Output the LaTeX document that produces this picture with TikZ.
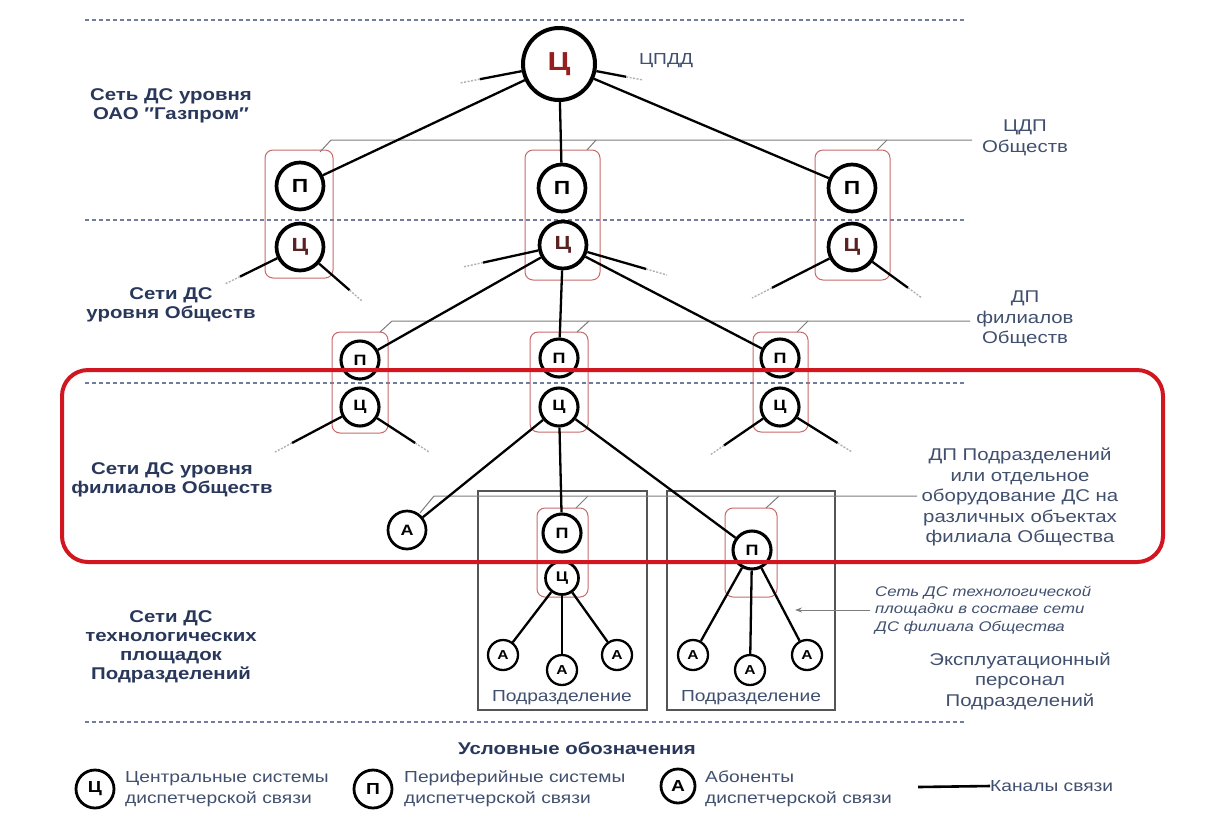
\documentclass[tikz,border=0pt]{standalone}
\usepackage{fontspec}
\setmainfont{Liberation Sans}[FakeStretch=1.2]
\usetikzlibrary{calc,arrows.meta}
\definecolor{navy}{RGB}{40,55,90}
\definecolor{gblue}{RGB}{65,80,110}
\definecolor{sepc}{RGB}{110,125,160}
\definecolor{leadc}{RGB}{125,125,125}
\definecolor{boxc}{RGB}{85,85,85}
\definecolor{pinkc}{RGB}{200,105,105}
\definecolor{bigred}{RGB}{210,22,32}
\definecolor{dred}{RGB}{150,30,30}
\definecolor{bred}{RGB}{90,35,35}
\begin{document}
\begin{tikzpicture}[x=1pt,y=-1pt,
  sep/.style={draw=sepc,line width=1.1pt,dash pattern=on 4pt off 3pt},
  lead/.style={draw=leadc,line width=1pt},
  conn/.style={draw=black,line width=2.3pt},
  tail/.style={draw=gray!60,line width=1.4pt,dash pattern=on 2pt off 1.5pt},
  pbox/.style={draw=pinkc,line width=1pt,rounded corners=8pt},
  sbox/.style={draw=boxc,line width=1.5pt},
  bigc/.style={circle,draw,line width=4pt,inner sep=0pt,minimum size=72pt,font=\fontsize{26}{26}\selectfont\bfseries},
  midc/.style={circle,draw,line width=3.7pt,inner sep=0pt,minimum size=47pt,font=\fontsize{19}{19}\selectfont\bfseries},
  smlc/.style={circle,draw,line width=3.1pt,inner sep=0pt,minimum size=38pt,font=\fontsize{15}{15}\selectfont\bfseries},
  subc/.style={circle,draw,line width=2.7pt,inner sep=0pt,minimum size=33pt,font=\fontsize{14}{14}\selectfont\bfseries},
  abc/.style={circle,draw,line width=2.3pt,inner sep=0pt,minimum size=30pt,font=\fontsize{13}{13}\selectfont\bfseries},
  abl/.style={circle,draw,line width=2.7pt,inner sep=0pt,minimum size=38pt,font=\fontsize{15}{15}\selectfont\bfseries},
  legc/.style={circle,draw,line width=2.8pt,inner sep=0pt,minimum size=38pt,font=\fontsize{16}{16}\selectfont\bfseries},
  lbl/.style={text=navy,font=\fontsize{17}{19}\selectfont\bfseries,align=center,inner sep=0pt},
  rlbl/.style={text=gblue,font=\fontsize{17}{20.5}\selectfont,align=center,inner sep=0pt},
  itl/.style={text=gblue,font=\fontsize{14}{17.5}\selectfont\itshape,align=left,inner sep=0pt,anchor=west},
  leg/.style={text=gblue,font=\fontsize{16}{21}\selectfont,align=left,inner sep=0pt,anchor=west},
  podr/.style={text=gblue,font=\fontsize{16}{16}\selectfont,inner sep=0pt}
]
\useasboundingbox (0,0) rectangle (1214,812);
\fill[white] (0,0) rectangle (1214,812);

% separators
\coordinate (d1a) at (85,20);  \coordinate (d1b) at (965,20);
\coordinate (d2a) at (85,220); \coordinate (d2b) at (965,220);
\coordinate (d3a) at (85,383); \coordinate (d3b) at (965,383);
\coordinate (d4a) at (85,722); \coordinate (d4b) at (965,722);
\draw[sep] (d1a) -- (d1b);
\draw[sep] (d2a) -- (d2b);
\draw[sep] (d3a) -- (d3b);
\draw[sep] (d4a) -- (d4b);

% pink boxes level 2
\draw[pbox] (265,150) rectangle (333,278);
\draw[pbox] (525,150) rectangle (600,280);
\draw[pbox] (815,150) rectangle (890,280);
% pink boxes level 3
\draw[pbox] (332,332) rectangle (388,433);
\draw[pbox] (530,332) rectangle (588,432);
\draw[pbox] (753,332) rectangle (808,432);
% pink boxes level 4
\draw[pbox] (537,508) rectangle (588,597);
\draw[pbox] (725,508) rectangle (777,597);
% sub-division boxes
\draw[sbox] (478,491) rectangle (647,710);
\draw[sbox] (667,491) rectangle (835,710);

% leaders
\coordinate (l1s) at (320,152); \coordinate (l1k) at (331,140); \coordinate (l1e) at (972,140);
\draw[lead] (l1s) -- (l1k) -- (l1e);
\coordinate (l1bs) at (587,150); \coordinate (l1bk) at (596,140);
\draw[lead] (l1bs) -- (l1bk);
\coordinate (l1cs) at (877,150); \coordinate (l1ck) at (887,140);
\draw[lead] (l1cs) -- (l1ck);

\coordinate (l2s) at (380,332); \coordinate (l2k) at (392,321); \coordinate (l2e) at (970,321);
\draw[lead] (l2s) -- (l2k) -- (l2e);
\coordinate (l2bs) at (577,332); \coordinate (l2bk) at (589,321);
\draw[lead] (l2bs) -- (l2bk);
\coordinate (l2cs) at (797,332); \coordinate (l2ck) at (808,321);
\draw[lead] (l2cs) -- (l2ck);

\coordinate (l3s) at (420,513); \coordinate (l3k) at (434,496); \coordinate (l3e) at (917,496);
\draw[lead] (l3s) -- (l3k) -- (l3e);
\coordinate (l3bs) at (576,508); \coordinate (l3bk) at (588,496);
\draw[lead] (l3bs) -- (l3bk);
\coordinate (l3cs) at (766,508); \coordinate (l3ck) at (779,496);
\draw[lead] (l3cs) -- (l3ck);

% nodes
\node[bigc,text=dred] (c0) at (559,64) {Ц};
\node[midc] (p2a) at (300,186) {П};
\node[midc,text=bred] (c2a) at (300,247) {Ц};
\node[midc] (p2b) at (562,188) {П};
\node[midc,text=bred] (c2b) at (563,245) {Ц};
\node[midc] (p2c) at (852,188) {П};
\node[midc,text=bred] (c2c) at (852,247) {Ц};
\node[smlc] (p3a) at (360,360) {П};
\node[smlc] (c3a) at (360,407) {Ц};
\node[smlc] (p3b) at (559,358) {П};
\node[smlc] (c3b) at (559,407) {Ц};
\node[smlc] (p3c) at (780,358) {П};
\node[smlc] (c3c) at (780,407) {Ц};
\node[abl] (a1) at (407,530) {А};
\node[smlc] (p4a) at (562,533) {П};
\node[subc] (c4a) at (562,578) {Ц};
\node[smlc] (p4b) at (752,550) {П};
\node[abc] (a2) at (503,655) {А};
\node[abc] (a3) at (562,670) {А};
\node[abc] (a4) at (617,655) {А};
\node[abc] (a5) at (693,655) {А};
\node[abc] (a6) at (750,670) {А};
\node[abc] (a7) at (807,655) {А};

% connectors
\draw[conn] (c0) -- (p2a);
\draw[conn] (c0) -- (p2b);
\draw[conn] (c0) -- (p2c);
\draw[conn] (c2b) -- (p3a);
\draw[conn] (c2b) -- (p3b);
\draw[conn] (c2b) -- (p3c);
\draw[conn] (c3b) -- (a1);
\draw[conn] (c3b) -- (p4a);
\draw[conn] (c3b) -- (p4b);
\draw[conn] (c4a) -- (a2);
\draw[conn] (c4a) -- (a3);
\draw[conn] (c4a) -- (a4);
\draw[conn] (p4b) -- (a5);
\draw[conn] (p4b) -- (a6);
\draw[conn] (p4b) -- (a7);

% stubs
\foreach \n/\ex/\ey in {c0/460/83, c0/643/80, c2a/225/284, c2a/362/301, c2b/463/267, c2b/667/275, c2c/752/298, c2c/922/298, c3a/275/452, c3a/429/452, c3c/710/455, c3c/852/452}{
  \coordinate (se) at (\ex,\ey);
  \draw[conn] (\n) -- ($(\n)!0.8!(se)$);
  \draw[tail] ($(\n)!0.8!(se)$) -- (se);
}

% big red frame
\draw[draw=bigred,line width=4pt,rounded corners=26pt] (62,370) rectangle (1163,562);

% left labels
\node[lbl] (t1) at (171,106) {Сеть ДС уровня\\ОАО ″Газпром″};
\node[lbl] (t2) at (171,305) {Сети ДС\\уровня Обществ};
\node[lbl] (t3) at (172,480) {Сети ДС уровня\\филиалов Обществ};
\node[lbl] (t4) at (171,647) {Сети ДС\\технологических\\площадок\\Подразделений};

% right labels
\node[rlbl,font=\fontsize{16}{16}\selectfont] (t5) at (666,61) {ЦПДД};
\node[rlbl] (t6) at (1025,138) {ЦДП\\Обществ};
\node[rlbl] (t7) at (1025,319) {ДП\\филиалов\\Обществ};
\node[rlbl] (t8) at (1020,497) {ДП Подразделений\\или отдельное\\оборудование ДС на\\различных объектах\\филиала Общества};
\node[itl] (t9) at (875,610) {Сеть ДС технологической\\площадки в составе сети\\ДС филиала Общества};
\node[rlbl] (t10) at (1020,681) {Эксплуатационный\\персонал\\Подразделений};
\node[podr] (t11) at (562,698) {Подразделение};
\node[podr] (t12) at (751,698) {Подразделение};

% arrow
\coordinate (ar1) at (870,610); \coordinate (ar2) at (795,610);
\draw[draw=leadc,line width=1pt,-{Stealth[length=7pt,width=5pt]}] (ar1) -- (ar2);

% legend
\node[lbl] (lt) at (577,748) {Условные обозначения};
\node[legc] (lg1) at (95,789) {Ц};
\node[leg] (lx1) at (125,789) {Центральные системы\\диспетчерской связи};
\node[legc] (lg2) at (373,789) {П};
\node[leg] (lx2) at (404,789) {Периферийные системы\\диспетчерской связи};
\node[legc,minimum size=34pt] (lg3) at (678,786) {А};
\node[leg] (lx3) at (705,789) {Абоненты\\диспетчерской связи};
\coordinate (lk1) at (918,787);
\node[leg] (lx4) at (990,786) {Каналы связи};
\draw[conn,line width=2.6pt] (lk1) -- (lx4.west);
\end{tikzpicture}
\end{document}
